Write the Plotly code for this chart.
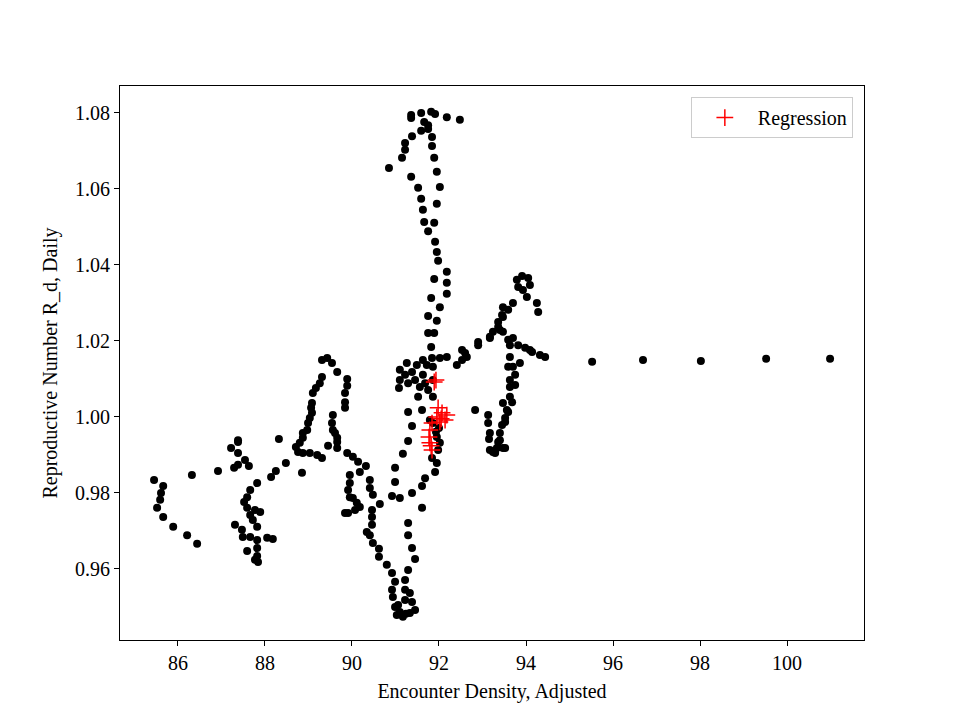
import plotly.graph_objects as go

# observed daily points (encounter density, reproductive number)
obs_density = [
    85.45, 85.66, 85.61, 85.59, 85.52, 85.66, 85.89, 86.21, 86.44, 86.32, 86.92,
    87.38, 87.38, 87.22, 87.38, 87.54, 87.63, 87.38, 87.29,
    88.32, 88.48, 88.25, 88.14, 87.82, 87.66, 87.59, 87.52, 87.59, 87.77, 87.89,
    87.66, 87.72, 87.82, 87.31, 87.47, 87.49, 87.66, 87.82, 88.05, 88.18, 87.59,
    87.82, 87.82, 87.84, 87.77,
    89.31, 89.43, 89.54, 89.66, 89.31, 89.26, 89.10, 89.08, 89.08, 88.99, 88.97,
    88.87, 88.80, 88.76, 88.87, 89.03, 89.20, 89.31, 88.71, 88.85, 89.17, 89.06,
    89.03, 88.87,
    89.89, 89.89, 89.84, 89.84, 89.84, 89.56, 89.54, 89.56, 89.66, 89.66, 89.45,
    89.89, 90.02, 90.14, 90.32, 90.18, 89.61, 89.66,
    89.95, 89.95, 89.91, 89.95, 90.02, 90.11, 89.91, 90.07, 90.18, 89.84,
    90.41, 90.41, 90.48, 90.64, 90.46, 90.46, 90.46, 90.34, 90.41, 90.48, 90.62,
    90.62, 90.80, 90.92, 90.99, 90.92, 90.94, 90.99, 91.03, 91.17, 91.33, 91.45,
    91.38, 91.22, 91.22, 91.33, 91.22, 91.29, 91.45, 91.38, 91.29, 91.29, 91.61,
    91.38, 91.61, 91.68, 91.91, 91.95, 91.10, 91.06, 91.24,
    90.99, 90.99, 90.92, 91.10, 91.17, 91.29, 91.38, 91.29,
    91.86, 91.93, 92.02, 91.98, 91.84, 91.79, 91.95, 92.00,
    91.36, 91.36, 91.59, 91.82, 91.91, 92.18, 92.48, 91.66, 91.75, 91.75, 91.59,
    91.38, 91.22, 91.22, 91.15, 90.85, 91.84, 91.84, 91.89, 91.95, 92.02, 91.95,
    91.89, 91.75, 91.66, 91.63, 91.59, 91.52, 91.36, 91.91, 91.95, 91.98, 92.18,
    92.18, 92.18, 91.89, 91.82, 92.02, 91.75, 91.95, 91.75, 91.89, 91.82, 91.84,
    92.02, 92.18, 92.53, 92.64, 92.41, 91.63, 91.49, 91.26, 91.10, 91.10, 91.08,
    91.29, 91.45, 91.56, 91.52, 91.61, 91.72, 91.86, 91.86, 91.86, 91.75, 91.63,
    91.68, 91.38, 91.22,
    92.90, 92.90, 93.17, 93.40, 93.47, 93.47, 93.79, 93.91, 94.05, 94.09, 93.93,
    93.82, 94.02, 94.25, 94.28, 93.70, 93.59, 93.45, 93.36, 93.36, 93.24, 93.17,
    92.60, 92.53, 93.47, 93.59, 93.70, 93.82, 93.98, 94.14, 94.32, 94.44, 93.63,
    93.63, 93.59, 93.70, 93.75, 93.63, 93.63, 93.63, 93.47, 93.56, 93.52, 93.45,
    93.40, 93.36, 93.33, 93.29, 93.47, 93.13, 93.13, 93.17, 92.83, 93.17, 93.86,
    93.68, 93.75, 93.59, 93.52, 93.40, 93.24, 93.15, 93.29, 93.52, 94.09,
    95.52, 96.69, 98.02, 99.52, 100.99,
]
obs_repro = [
    0.9834, 0.9818, 0.9800, 0.9782, 0.9761, 0.9737, 0.9711, 0.9689, 0.9666, 0.9847, 0.9858,
    0.9934, 0.9939, 0.9918, 0.9905, 0.9887, 0.9871, 0.9874, 0.9866,
    0.9942, 0.9879, 0.9858, 0.9842, 0.9826, 0.9808, 0.9789, 0.9776, 0.9761, 0.9755, 0.9750,
    0.9742, 0.9729, 0.9711, 0.9716, 0.9703, 0.9684, 0.9684, 0.9676, 0.9682, 0.9679, 0.9647,
    0.9655, 0.9634, 0.9618, 0.9624,
    1.0150, 1.0155, 1.0142, 1.0118, 1.0105, 1.0089, 1.0063, 1.0037, 1.0011, 0.9984, 0.9966,
    0.9945, 0.9932, 0.9908, 0.9905, 0.9905, 0.9900, 0.9892, 0.9921, 0.9853, 1.0076, 1.0024,
    0.9997, 0.9958,
    1.0100, 1.0082, 1.0063, 1.0039, 1.0024, 1.0005, 0.9984, 0.9966, 0.9945, 0.9918, 0.9924,
    0.9905, 0.9895, 0.9882, 0.9871, 0.9855, 0.9958, 0.9934,
    0.9847, 0.9826, 0.9808, 0.9789, 0.9787, 0.9774, 0.9747, 0.9755, 0.9763, 0.9747,
    0.9834, 0.9813, 0.9795, 0.9771, 0.9755, 0.9737, 0.9716, 0.9697, 0.9689, 0.9668, 0.9653,
    0.9632, 0.9611, 0.9589, 0.9566, 0.9545, 0.9526, 0.9500, 0.9479, 0.9474, 0.9484, 0.9492,
    0.9513, 0.9518, 0.9545, 0.9537, 0.9571, 0.9597, 0.9626, 0.9655, 0.9689, 0.9721, 0.9761,
    0.9800, 0.9818, 0.9839, 0.9855, 0.9879, 0.9487, 0.9505, 0.9482,
    0.9866, 0.9829, 0.9792, 0.9787, 0.9903, 0.9937, 0.9976, 1.0013,
    0.9984, 0.9961, 0.9932, 0.9913, 0.9892, 0.9992, 0.9947, 0.9971,
    1.0795, 1.0787, 1.0800, 1.0803, 1.0797, 1.0789, 1.0782, 1.0776, 1.0768, 1.0758, 1.0753,
    1.0739, 1.0721, 1.0703, 1.0682, 1.0655, 1.0737, 1.0713, 1.0682, 1.0645, 1.0605, 1.0561,
    1.0511, 1.0489, 1.0513, 1.0545, 1.0574, 1.0603, 1.0632, 1.0461, 1.0434, 1.0411, 1.0382,
    1.0353, 1.0324, 1.0363, 1.0313, 1.0289, 1.0266, 1.0253, 1.0221, 1.0221, 1.0184, 1.0155,
    1.0155, 1.0158, 1.0176, 1.0158, 1.0137, 1.0150, 1.0137, 1.0142, 1.0124, 1.0097, 1.0076,
    1.0089, 1.0097, 1.0079, 1.0053, 1.0018, 1.0137, 1.0132, 1.0097, 1.0053, 1.0071, 1.0111,
    1.0089, 1.0118, 1.0111,
    1.0197, 1.0189, 1.0208, 1.0229, 1.0263, 1.0289, 1.0361, 1.0371, 1.0366, 1.0347, 1.0334,
    1.0342, 1.0316, 1.0300, 1.0276, 1.0300, 1.0282, 1.0268, 1.0250, 1.0237, 1.0224, 1.0211,
    1.0168, 1.0150, 1.0224, 1.0203, 1.0208, 1.0189, 1.0182, 1.0171, 1.0163, 1.0158, 1.0189,
    1.0158, 1.0132, 1.0132, 1.0111, 1.0097, 1.0079, 1.0053, 1.0037, 1.0018, 0.9997, 0.9979,
    0.9958, 0.9934, 0.9918, 0.9905, 0.9918, 1.0005, 0.9984, 0.9958, 1.0018, 0.9913, 1.0142,
    1.0039, 1.0084, 1.0013, 0.9987, 0.9939, 0.9908, 0.9942, 0.9908, 0.9918, 1.0176,
    1.0145, 1.0150, 1.0147, 1.0153, 1.0153,
]

# regression points
reg_density = [91.93, 91.89, 91.98, 92.07, 92.18, 92.14, 92.02, 91.95, 91.84, 91.79,
               91.77, 91.79, 91.84, 91.82, 92.05]
reg_repro = [1.0097, 1.0092, 1.0024, 1.0011, 1.0005, 0.9992, 0.9987, 1.0000, 0.9984, 0.9966,
             0.9947, 0.9932, 0.9913, 0.9924, 0.9995]

font = dict(family="Liberation Serif, Times New Roman, serif", size=20, color="black")

fig = go.Figure()
fig.add_trace(
    go.Scatter(
        x=obs_density,
        y=obs_repro,
        mode="markers",
        marker=dict(color="black", size=8),
        showlegend=False,
    )
)
fig.add_trace(
    go.Scatter(
        x=reg_density,
        y=reg_repro,
        mode="markers",
        name="Regression",
        marker=dict(symbol="cross-thin", size=12, line=dict(color="red", width=1.5), color="red"),
    )
)

axis_style = dict(
    showgrid=False,
    zeroline=False,
    showline=True,
    linecolor="black",
    linewidth=1,
    mirror=True,
    ticks="outside",
    ticklen=5,
    tickcolor="black",
    tickfont=font,
)
fig.update_xaxes(
    range=[84.667, 101.77],
    tickvals=[86, 88, 90, 92, 94, 96, 98, 100],
    title=dict(text="Encounter Density, Adjusted", font=font, standoff=10),
    **axis_style,
)
fig.update_yaxes(
    range=[0.9413, 1.0871],
    tickvals=[0.96, 0.98, 1.00, 1.02, 1.04, 1.06, 1.08],
    tickformat=".2f",
    title=dict(text="Reproductive Number R_d, Daily", font=font, standoff=12),
    **axis_style,
)
fig.update_layout(
    width=960,
    height=720,
    margin=dict(l=112, r=104, t=78, b=88),
    plot_bgcolor="white",
    paper_bgcolor="white",
    font=font,
    legend=dict(
        x=0.985,
        y=0.98,
        xanchor="right",
        yanchor="top",
        bordercolor="#cccccc",
        borderwidth=1,
        bgcolor="white",
        itemwidth=56,
        font=font,
    ),
)

fig.write_html("out.html")
